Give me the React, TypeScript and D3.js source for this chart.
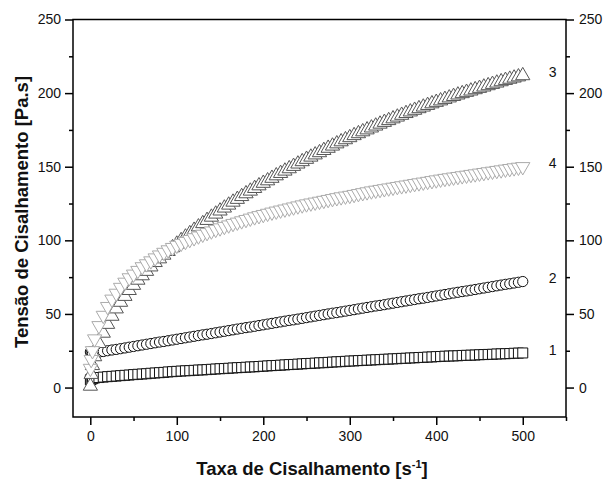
import { useEffect, useRef } from "react";
import * as d3 from "d3";

// shear rate [1/s]
const shearRate = [
  0.1, 1, 2.5, 5, 10, 15, 20, 25, 30, 35, 40, 45, 50, 55, 60, 65, 70, 75, 80, 85, 90, 95, 100,
  105, 110, 115, 120, 125, 130, 135, 140, 145, 150, 155, 160, 165, 170, 175, 180, 185, 190, 195, 200,
  205, 210, 215, 220, 225, 230, 235, 240, 245, 250, 255, 260, 265, 270, 275, 280, 285, 290, 295, 300,
  305, 310, 315, 320, 325, 330, 335, 340, 345, 350, 355, 360, 365, 370, 375, 380, 385, 390, 395, 400,
  405, 410, 415, 420, 425, 430, 435, 440, 445, 450, 455, 460, 465, 470, 475, 480, 485, 490, 495, 500,
];

const stress1 = [
  5.2, 5.6, 6.0, 6.5, 6.8, 7.1, 7.4, 7.6, 7.8, 8.1, 8.3, 8.5, 8.8, 9.0, 9.2, 9.4, 9.7, 9.9, 10.1, 10.3, 10.6, 10.8, 11.0,
  11.2, 11.4, 11.5, 11.7, 11.9, 12.0, 12.2, 12.4, 12.6, 12.8, 12.9, 13.1, 13.3, 13.5, 13.6, 13.8, 14.0, 14.1, 14.3, 14.5,
  14.7, 14.9, 15.0, 15.2, 15.4, 15.6, 15.7, 15.9, 16.1, 16.3, 16.4, 16.6, 16.8, 16.9, 17.1, 17.3, 17.5, 17.6, 17.8, 18.0,
  18.1, 18.3, 18.4, 18.6, 18.7, 18.9, 19.0, 19.2, 19.3, 19.5, 19.6, 19.8, 19.9, 20.1, 20.2, 20.4, 20.5, 20.7, 20.8, 21.0,
  21.1, 21.3, 21.4, 21.5, 21.6, 21.8, 21.9, 22.0, 22.1, 22.3, 22.4, 22.5, 22.6, 22.8, 22.9, 23.0, 23.1, 23.3, 23.4, 23.5,
];

const stress2 = [
  24.2, 23.6, 23.3, 23.5, 24.0, 24.5, 25.0, 25.5, 25.9, 26.4, 26.9, 27.4, 27.9, 28.4, 28.9, 29.4, 29.9, 30.4, 30.9, 31.3, 31.8, 32.3, 32.8,
  33.3, 33.8, 34.3, 34.8, 35.3, 35.8, 36.2, 36.7, 37.2, 37.7, 38.2, 38.7, 39.2, 39.7, 40.2, 40.7, 41.1, 41.6, 42.1, 42.6,
  43.1, 43.6, 44.1, 44.6, 45.1, 45.6, 46.0, 46.5, 47.0, 47.5, 48.0, 48.5, 49.0, 49.5, 50.0, 50.5, 50.9, 51.4, 51.9, 52.4,
  52.9, 53.4, 53.9, 54.4, 54.9, 55.4, 55.8, 56.3, 56.8, 57.3, 57.8, 58.3, 58.8, 59.3, 59.8, 60.3, 60.7, 61.2, 61.7, 62.2,
  62.7, 63.2, 63.7, 64.2, 64.7, 65.2, 65.6, 66.1, 66.6, 67.1, 67.6, 68.1, 68.6, 69.1, 69.6, 70.1, 70.5, 71.0, 71.5, 72.0,
];

const stress3 = [
  1, 9, 15, 21, 30, 37, 43, 48.5, 53.5, 58, 62, 66, 69.5, 73, 76, 79, 82, 85, 87.5, 90, 92.5, 95, 97.5,
  99.9, 102.3, 104.6, 106.9, 109.2, 111.4, 113.6, 115.8, 117.9, 120.0, 122.0, 124.0, 126.0, 127.9, 129.8, 131.7, 133.5, 135.3, 137.1, 138.8,
  140.5, 142.2, 143.9, 145.5, 147.1, 148.7, 150.3, 151.9, 153.5, 155.1, 156.6, 158.1, 159.6, 161.1, 162.6, 164.1, 165.6, 167.0, 168.4, 169.8,
  171.2, 172.5, 173.8, 175.1, 176.4, 177.7, 179.0, 180.2, 181.4, 182.6, 183.8, 185.0, 186.2, 187.3, 188.4, 189.5, 190.6, 191.7, 192.8, 193.8,
  194.8, 195.8, 196.8, 197.8, 198.8, 199.7, 200.6, 201.5, 202.4, 203.3, 204.2, 205.1, 206.0, 206.9, 207.8, 208.7, 209.5, 210.3, 211.1, 211.9,
];

const stress4 = [
  13, 19, 25, 33, 42, 49, 55, 60, 64, 68, 71.5, 74.5, 77, 79.5, 82, 84, 86, 88, 90, 91.8, 93.5, 95.1, 96.6,
  97.9, 99.2, 100.5, 101.7, 102.9, 104.1, 105.2, 106.3, 107.4, 108.4, 109.4, 110.4, 111.4, 112.3, 113.2, 114.1, 115.0, 115.9, 116.7, 117.5,
  118.3, 119.1, 119.8, 120.5, 121.2, 121.9, 122.6, 123.3, 124.0, 124.7, 125.3, 125.9, 126.5, 127.1, 127.7, 128.3, 128.9, 129.5, 130.0, 130.5,
  131.1, 131.7, 132.3, 132.9, 133.5, 134.0, 134.5, 135.0, 135.5, 136.0, 136.5, 137.0, 137.5, 138.0, 138.5, 139.0, 139.5, 140.0, 140.5, 141.0,
  141.5, 142.0, 142.4, 142.9, 143.3, 143.8, 144.2, 144.7, 145.1, 145.6, 146.0, 146.5, 146.9, 147.4, 147.8, 148.3, 148.7, 149.2, 149.6, 150.0,
];

const seriesNames = ["1", "2", "3", "4"];
const xMajor = [0, 100, 200, 300, 400, 500];
const xMinor = [50, 150, 250, 350, 450, 550];
const yMajor = [0, 50, 100, 150, 200, 250];
const yMinor = [25, 75, 125, 175, 225];

const W = 607;
const H = 479;
const FONT = "'Liberation Sans', Arial, Helvetica, sans-serif";

export default function App() {
  const svgRef = useRef<SVGSVGElement>(null);

  useEffect(() => {
    if (!svgRef.current) return;
    const svg = d3.select(svgRef.current);
    svg.selectAll("*").remove();

    const left = 73, right = 566, top = 19.5, bottom = 417;

    const x = d3.scaleLinear().domain([-20, 550]).range([left, right]);
    const y = d3.scaleLinear().domain([-20, 250]).range([bottom, top]);

    const series = [
      { name: seriesNames[0], values: stress1, shape: d3.symbolSquare, size: 100, rot: 0, color: "#111" },
      { name: seriesNames[1], values: stress2, shape: d3.symbolCircle, size: 82, rot: 0, color: "#111" },
      { name: seriesNames[2], values: stress3, shape: d3.symbolTriangle, size: 88, rot: 0, color: "#555" },
      { name: seriesNames[3], values: stress4, shape: d3.symbolTriangle, size: 88, rot: 180, color: "#ababab" },
    ];

    // ── markers ──
    series.forEach((s) => {
      const path = d3.symbol().type(s.shape).size(s.size)();
      svg
        .append("g")
        .selectAll("path")
        .data(shearRate.map((xv, i) => [xv, s.values[i]] as [number, number]))
        .join("path")
        .attr("d", path)
        .attr("transform", (d) => `translate(${x(d[0])},${y(d[1])}) rotate(${s.rot})`)
        .attr("fill", "#fff")
        .attr("stroke", s.color)
        .attr("stroke-width", 1);
    });

    // ── series labels next to the last point ──
    series.forEach((s) => {
      svg
        .append("text")
        .attr("x", x(530))
        .attr("y", y(s.values[s.values.length - 1]) - 2)
        .attr("dominant-baseline", "middle")
        .attr("font-family", FONT)
        .attr("font-size", 14)
        .attr("fill", "#111")
        .text(s.name);
    });

    // ── axes ──
    const styleAxis = (g: any) => {
      g.select(".domain").remove();
      g.selectAll("line").attr("stroke", "#000").attr("stroke-width", 1.5);
      g.selectAll("text").attr("font-family", FONT).attr("font-size", 14).attr("fill", "#111");
    };

    svg.append("g").attr("transform", `translate(${left},0)`)
      .call(d3.axisLeft(y).tickValues(yMajor).tickSize(8).tickPadding(4).tickFormat(d3.format("d")))
      .call(styleAxis);
    svg.append("g").attr("transform", `translate(${left},0)`)
      .call(d3.axisLeft(y).tickValues(yMinor).tickSize(4).tickFormat(() => ""))
      .call(styleAxis);
    svg.append("g").attr("transform", `translate(${right},0)`)
      .call(d3.axisRight(y).tickValues(yMajor).tickSize(8).tickPadding(5).tickFormat(d3.format("d")))
      .call(styleAxis);
    svg.append("g").attr("transform", `translate(${right},0)`)
      .call(d3.axisRight(y).tickValues(yMinor).tickSize(4).tickFormat(() => ""))
      .call(styleAxis);
    svg.append("g").attr("transform", `translate(0,${bottom})`)
      .call(d3.axisBottom(x).tickValues(xMajor).tickSize(8).tickPadding(6).tickFormat(d3.format("d")))
      .call(styleAxis);
    svg.append("g").attr("transform", `translate(0,${bottom})`)
      .call(d3.axisBottom(x).tickValues(xMinor).tickSize(4).tickFormat(() => ""))
      .call(styleAxis);

    // frame
    svg.append("rect")
      .attr("x", left).attr("y", top)
      .attr("width", right - left).attr("height", bottom - top)
      .attr("fill", "none").attr("stroke", "#000").attr("stroke-width", 1.5);

    // ── titles ──
    const xt = svg.append("text")
      .attr("x", 312).attr("y", 475)
      .attr("text-anchor", "middle")
      .attr("font-family", FONT).attr("font-size", 18.5).attr("font-weight", "bold")
      .attr("fill", "#111");
    xt.append("tspan").text("Taxa de Cisalhamento [s");
    xt.append("tspan").attr("dy", -7).attr("font-size", 11).text("-1");
    xt.append("tspan").attr("dy", 7).text("]");

    svg.append("text")
      .attr("transform", "translate(28,212) rotate(-90)")
      .attr("text-anchor", "middle")
      .attr("font-family", FONT).attr("font-size", 18.5).attr("font-weight", "bold")
      .attr("fill", "#111")
      .text("Tensão de Cisalhamento [Pa.s]");
  }, []);

  return (
    <svg
      ref={svgRef}
      width={W}
      height={H}
      style={{ position: "absolute", left: 0, top: 0, background: "#fff" }}
    />
  );
}
